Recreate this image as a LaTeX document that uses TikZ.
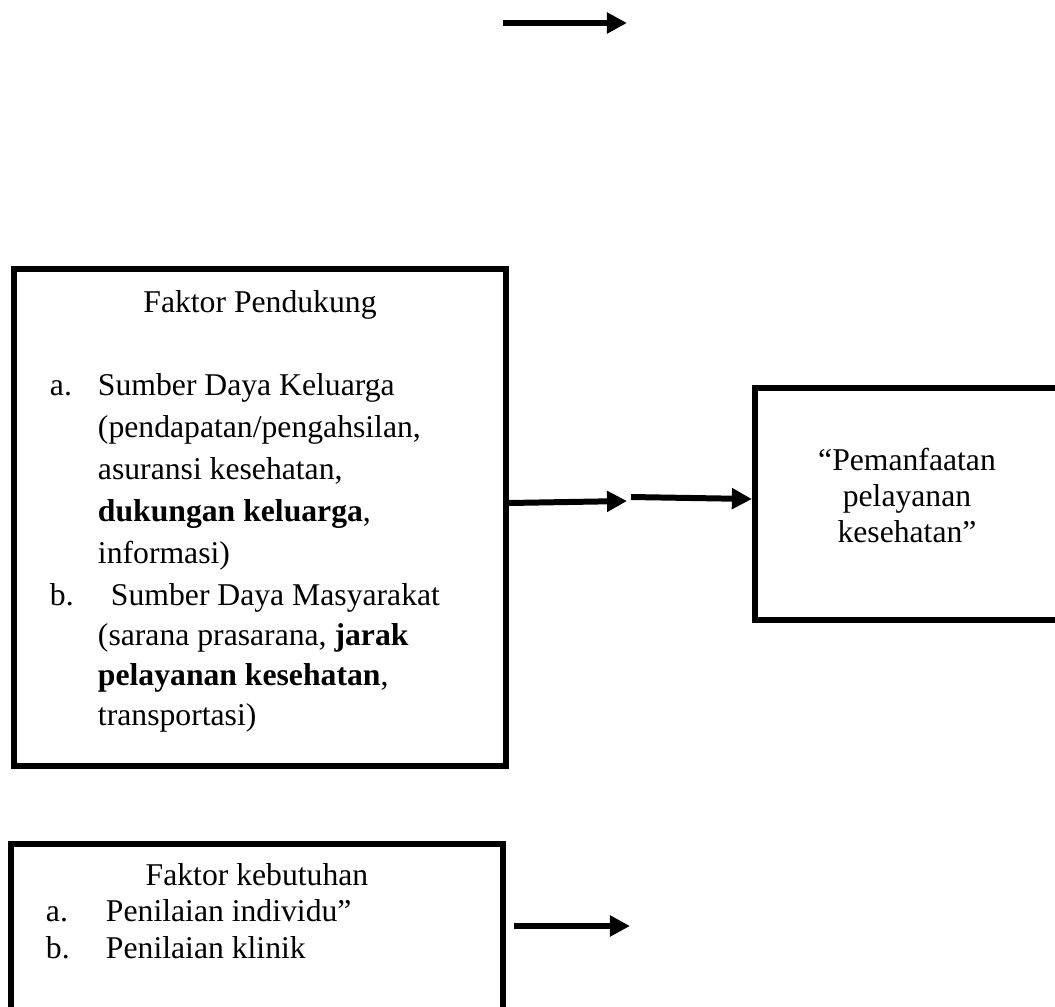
\documentclass[tikz,border=0pt]{standalone}
\usepackage{fontspec}
\setmainfont{Liberation Serif}
\usetikzlibrary{arrows.meta,positioning,calc}
\tikzset{every picture/.style={line width=2.27pt}}
\tikzset{kotak/.style={draw,rectangle,line width=2.27pt,inner sep=0pt}}
\tikzset{teks/.style={anchor=base west,inner sep=0pt,font=\fontsize{12}{14}\selectfont}}
\tikzset{judul/.style={teks,anchor=base}}
\tikzset{panah/.style={-{Triangle[length=7.6pt,width=7.6pt]},line width=2.27pt}}

\begin{document}
\begin{tikzpicture}[x=0.3788pt,y=-0.3788pt]
\useasboundingbox (0,0) rectangle (1055,1006);
\clip (0,0) rectangle (1055,1006);
%
\node[kotak,minimum width=186.4pt,minimum height=188.3pt] (pendukung) at (260,517.5) {};
\node[kotak,minimum width=115.2pt,minimum height=87.9pt] (manfaat) at (907,504) {};
\node[kotak,minimum width=186.4pt,minimum height=74.2pt] (butuh) at (257,942) {};
%
\node[judul] (p0) at (260,312) {Faktor Pendukung};
\node[teks] (pa) at (47,395) {a.};
\node[teks] (pa1) at (95,395) {Sumber Daya Keluarga};
\node[teks] (pa2) at (95,437) {(pendapatan/pengahsilan,};
\node[teks] (pa3) at (95,479) {asuransi kesehatan,};
\node[teks] (pa4) at (95,521) {\textbf{dukungan keluarga},};
\node[teks] (pa5) at (95,563) {informasi)};
\node[teks] (pb) at (47,605) {b.};
\node[teks] (pb1) at (108,605) {Sumber Daya Masyarakat};
\node[teks] (pb2) at (95,645) {(sarana prasarana, \textbf{jarak}};
\node[teks] (pb3) at (95,685) {\textbf{pelayanan kesehatan},};
\node[teks] (pb4) at (95,725) {transportasi)};
%
\node[judul] (m1) at (907,470) {“Pemanfaatan};
\node[judul] (m2) at (907,506) {pelayanan};
\node[judul] (m3) at (907,542) {kesehatan”};
%
\node[judul] (k0) at (257,885) {Faktor kebutuhan};
\node[teks] (ka) at (43,921) {a.};
\node[teks] (ka1) at (103,921) {Penilaian individu”};
\node[teks] (kb) at (43,958) {b.};
\node[teks] (kb1) at (103,958) {Penilaian klinik};
%
\coordinate (atas1) at (503,23);
\coordinate (atas2) at (627,23);
\coordinate (y1) at (0,503);
\coordinate (tengah1) at (627,501);
\coordinate (tengah2) at (631,497);
\coordinate (y2) at (0,499);
\coordinate (bawah) at (630,926);
%
\draw[panah] (atas1) -- (atas2);
\draw[panah] (pendukung.east |- y1) -- (tengah1);
\draw[panah] (tengah2) -- (manfaat.west |- y2);
\draw[panah] ($(butuh.east |- bawah)+(8,0)$) -- (bawah);
\end{tikzpicture}
\end{document}
